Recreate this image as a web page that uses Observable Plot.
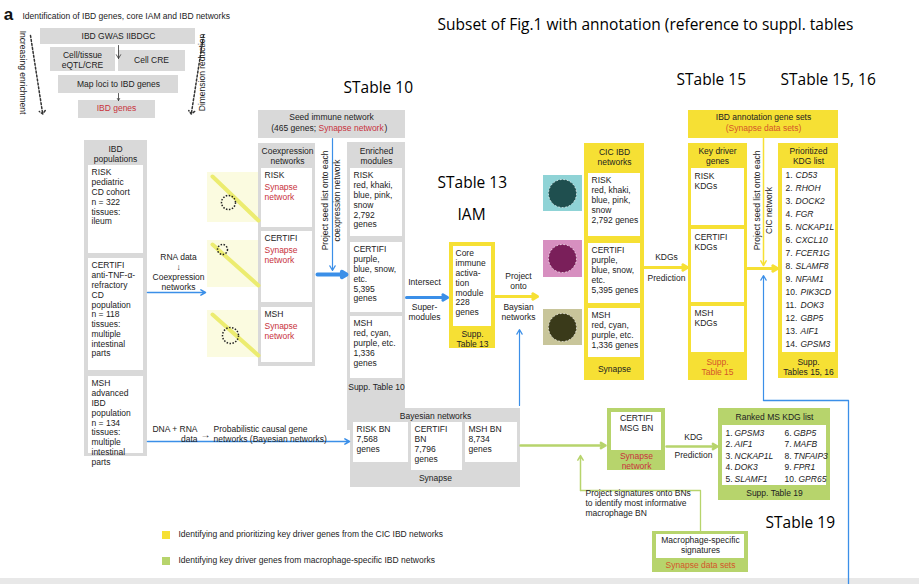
<!DOCTYPE html>
<html><head><meta charset="utf-8">
<script src="https://cdn.jsdelivr.net/npm/d3@7"></script>
<script src="https://cdn.jsdelivr.net/npm/@observablehq/plot@0.6"></script>
<style>body{margin:0;background:#fff}</style>
</head><body><div id="chart"></div>
<script>
// colours
const GRAY = "#d9d9d9", YEL = "#f6e034", GRN = "#b7d46c", BLUE = "#3b8fe8", RED = "#c8323c", ORG = "#d4552a";

// boxes: [x1, y1, x2, y2, fill]
const boxes = [
  // funnel
  [40, 28, 195, 44, GRAY], [50, 47, 115, 71, GRAY], [118, 50, 185, 71, GRAY],
  [58, 75, 178, 93, GRAY], [78, 100, 155, 118, GRAY],
  // populations
  [84, 140, 147, 456, GRAY], [88, 165, 143, 253, "#fff"], [88, 258, 143, 370, "#fff"], [88, 376, 143, 453, "#fff"],
  // heatmaps
  [207, 172, 260, 222, "#fbfbe0"], [207, 240, 260, 287, "#fbfbe0"], [207, 310, 260, 357, "#fbfbe0"],
  // seed + coexpression
  [258, 110, 405, 138, GRAY], [258, 143, 315, 366, GRAY],
  [261, 168, 312, 227, "#fff"], [261, 231, 312, 302, "#fff"], [261, 307, 312, 362, "#fff"],
  // enriched modules
  [347, 142, 405, 430, GRAY], [350, 168, 402, 236, "#fff"], [350, 242, 402, 312, "#fff"], [350, 316, 402, 378, "#fff"],
  // core IAM
  [449, 242, 495, 348, YEL], [453, 246, 491, 326, "#fff"],
  // network pictures
  [543, 175, 582, 211, "#8fd3d6"], [543, 240, 582, 277, "#d78fc0"], [543, 309, 582, 345, "#c8c59a"],
  // CIC IBD
  [584, 143, 644, 380, YEL], [588, 173, 640, 236, "#fff"], [588, 243, 640, 303, "#fff"], [588, 308, 640, 357, "#fff"],
  // annotation + KDG
  [688, 110, 838, 138, YEL], [688, 143, 747, 380, YEL],
  [691, 168, 744, 225, "#fff"], [691, 229, 744, 302, "#fff"], [691, 306, 744, 352, "#fff"],
  [778, 143, 838, 378, YEL], [782, 168, 835, 352, "#fff"],
  // Bayesian
  [350, 408, 520, 487, GRAY], [353, 422, 408, 462, "#fff"], [411, 422, 462, 470, "#fff"], [465, 422, 517, 462, "#fff"],
  // macrophage part
  [607, 408, 665, 470, GRN], [611, 412, 661, 450, "#fff"],
  [718, 408, 830, 500, GRN], [722, 425, 826, 485, "#fff"],
  [652, 531, 748, 572, GRN], [656, 534, 744, 558, "#fff"],
  // legend swatches
  [162, 531, 170, 539, YEL], [162, 557, 170, 565, GRN],
  [0, 578, 919, 584, "#e8e8e8"]
];
// heatmap diagonals: [id, x, y]
const diag = [
  ["h1", 212, 176], ["h1", 258, 220], ["h2", 212, 244], ["h2", 258, 285], ["h3", 212, 314], ["h3", 258, 355]
];
// network blobs inside pictures: [cx, cy, r, fill]
const blobs = [[562, 193, 14, "#1f4f4f"], [562, 258, 14, "#7a1f5a"], [562, 327, 14, "#3a3a1a"]];
const ellipses = [[228, 202, 7], [222, 249, 5], [230, 335, 8]];

// arrows: [x1, y1, x2, y2, colour, width]
const arrows = [
  [147, 292, 205, 292, BLUE, 1.5], [317, 274, 346, 274, BLUE, 4], [332, 138, 332, 270, BLUE, 1.2],
  [406, 297, 447, 297, BLUE, 3], [495, 296, 537, 296, YEL, 3], [519, 405, 519, 329, BLUE, 1.2],
  [644, 267, 687, 267, YEL, 3], [763, 138, 763, 265, YEL, 1.5], [747, 268, 777, 268, YEL, 3],
  [763, 400, 763, 275, BLUE, 1.2], [147, 441, 349, 441, BLUE, 1.5],
  [520, 445, 605, 445, GRN, 2.5], [580, 490, 580, 455, GRN, 1.5], [666, 446, 717, 446, GRN, 2.5],
  [118, 45, 118, 58, "#333", 0.8], [118, 93, 118, 100, "#333", 0.8]
];
// plain polylines: [id, x, y, colour]
const polyPts = [
  ["b1", 763, 400, BLUE], ["b1", 848, 400, BLUE], ["b1", 848, 584, BLUE],
  ["g1", 700, 531, GRN], ["g1", 700, 490, GRN], ["g1", 580, 490, GRN]
];
const dashPts = [
  ["d1", 30, 35, "#333"], ["d1", 42, 112, "#333"], ["d2", 203, 35, "#333"], ["d2", 191, 112, "#333"]
];

// text: [x, y, text, colour?]
const labels = [
  [118, 32, "IBD GWAS IIBDGC"], [82, 51, "Cell/tissue\neQTL/CRE"], [151, 56, "Cell CRE"],
  [118, 80, "Map loci to IBD genes"],
  [115, 145, "IBD\npopulations"], [287, 147, "Coexpression\nnetworks"], [376, 147, "Enriched\nmodules"],
  [331, 113, "Seed immune network"], [614, 148, "CIC IBD\nnetworks"], [717, 147, "Key driver\ngenes"],
  [808, 147, "Prioritized\nKDG list"], [763, 113, "IBD annotation gene sets"],
  [178, 253, "RNA data\n↓\nCoexpression\nnetworks"], [424, 278, "Intersect"], [424, 303, "Super-\nmodules"],
  [518, 272, "Project\nonto"], [518, 303, "Baysian\nnetworks"], [666, 253, "KDGs"], [666, 274, "Prediction"],
  [376, 383, "Supp. Table 10"], [472, 330, "Supp.\nTable 13"], [614, 365, "Synapse"],
  [435, 412, "Bayesian networks"], [435, 474, "Synapse"], [636, 414, "CERTIFI\nMSG BN"],
  [693, 433, "KDG"], [693, 451, "Prediction"], [774, 413, "Ranked MS KDG list"], [774, 489, "Supp. Table 19"],
  [808, 358, "Supp.\nTables 15, 16"], [700, 536, "Macrophage-specific\nsignatures"]
];
const redLabels = [
  [116, 104, "IBD genes", RED], [717, 358, "Supp.\nTable 15", ORG], [763, 124, "(Synapse data sets)", ORG],
  [636, 452, "Synapse\nnetwork", RED], [700, 561, "Synapse data sets", ORG]
];
const leftLabels = [
  [91, 168, "RISK\npediatric\nCD cohort\nn = 322\ntissues:\nileum"],
  [91, 261, "CERTIFI\nanti-TNF-α-\nrefractory\nCD\npopulation\nn = 118\ntissues:\nmultiple\nintestinal\nparts"],
  [91, 379, "MSH\nadvanced\nIBD\npopulation\nn = 134\ntissues:\nmultiple\nintestinal\nparts"],
  [264, 171, "RISK"], [264, 234, "CERTIFI"], [264, 310, "MSH"],
  [353, 171, "RISK\nred, khaki,\nblue, pink,\nsnow\n2,792\ngenes"],
  [353, 245, "CERTIFI\npurple,\nblue, snow,\netc.\n5,395\ngenes"],
  [353, 319, "MSH\nred, cyan,\npurple, etc.\n1,336\ngenes"],
  [455, 249, "Core\nimmune\nactiva-\ntion\nmodule\n228\ngenes"],
  [591, 176, "RISK\nred, khaki,\nblue, pink,\nsnow\n2,792 genes"],
  [591, 246, "CERTIFI\npurple,\nblue, snow,\netc.\n5,395 genes"],
  [591, 311, "MSH\nred, cyan,\npurple, etc.\n1,336 genes"],
  [694, 172, "RISK\nKDGs"], [694, 233, "CERTIFI\nKDGs"], [694, 309, "MSH\nKDGs"],
  [356, 425, "RISK BN\n7,568\ngenes"], [414, 425, "CERTIFI\nBN\n7,796\ngenes"], [468, 425, "MSH BN\n8,734\ngenes"],
  [213, 425, "Probabilistic causal gene\nnetworks (Bayesian networks)"],
  [585, 489, "Project signatures onto BNs\nto identify most informative\nmacrophage BN"],
  [178, 530, "Identifying and prioritizing key driver genes from the CIC IBD networks"],
  [178, 556, "Identifying key driver genes from macrophage-specific IBD networks"],
  [22, 12, "Identification of IBD genes, core IAM and IBD networks"]
];
const rightLabels = [[197, 425, "DNA + RNA\ndata"]];
const redLeft = [[264, 183, "Synapse\nnetwork"], [264, 246, "Synapse\nnetwork"], [264, 322, "Synapse\nnetwork"]];
const arrowGlyph = [[205, 434, "→"]];

// gene lists
const kdgGenes = ["CD53", "RHOH", "DOCK2", "FGR", "NCKAP1L", "CXCL10", "FCER1G", "SLAMF8", "NFAM1", "PIK3CD", "DOK3", "GBP5", "AIF1", "GPSM3"];
const msGenes = ["GPSM3", "AIF1", "NCKAP1L", "DOK3", "SLAMF1", "GBP5", "MAFB", "TNFAIP3", "FPR1", "GPR65"];
const kdgNum = kdgGenes.map((g, i) => ({x: 785, y: 171 + i * 13, n: (i + 1) + ".", g, gx: i < 9 ? 795 : 800}));
const msNum = msGenes.map((g, i) => ({x: i < 5 ? 725 : 784, y: 429 + (i % 5) * 11.5, n: (i + 1) + ".", g,
  gx: (i < 5 ? 725 : 784) + (i < 9 ? 9 : 14)}));
const rotUp = [
  [325, 200, "Project seed list onto each"], [337, 200, "coexpression network"],
  [757, 200, "Project seed list onto each"], [769, 210, "CIC network"],
  [202, 72, "Dimension reduction"]
];
const rotDown = [[22, 72, "Increasing enrichment"]];
const annot = [
  [437, 25, "Subset of Fig.1 with annotation (reference to suppl. tables"], [343, 88, "STable 10"],
  [676, 80, "STable 15"], [780, 80, "STable 15, 16"], [437, 183, "STable 13"], [457, 215, "IAM"], [765, 523, "STable 19"]
];

const F = "Liberation Sans, Arial, sans-serif";
const FS = 8.5;
const chart = Plot.plot({
  width: 919, height: 584, margin: 0,
  x: {domain: [0, 919], range: [0, 919], axis: null},
  y: {domain: [0, 584], range: [0, 584], axis: null},
  r: {type: "identity"},
  style: {fontFamily: F, background: "#fff"},
  marks: [
    Plot.rect(boxes, {x1: d => d[0], y1: d => d[1], x2: d => d[2], y2: d => d[3], fill: d => d[4]}),
    Plot.line(diag, {x: d => d[1], y: d => d[2], z: d => d[0], stroke: "#ecec70", strokeWidth: 4}),
    Plot.dot(blobs, {x: d => d[0], y: d => d[1], r: d => d[2], fill: d => d[3], stroke: "#fff", strokeWidth: 0.8, strokeDasharray: "1.5,2"}),
    Plot.dot(ellipses, {x: d => d[0], y: d => d[1], r: d => d[2], stroke: "#222", strokeDasharray: "1.5,1.5"}),
    Plot.line(polyPts, {x: d => d[1], y: d => d[2], z: d => d[0], stroke: d => d[3], strokeWidth: 1.3}),
    Plot.line(dashPts, {x: d => d[1], y: d => d[2], z: d => d[0], stroke: "#333", strokeDasharray: "2,2", markerEnd: "arrow"}),
    Plot.arrow(arrows, {x1: d => d[0], y1: d => d[1], x2: d => d[2], y2: d => d[3],
      stroke: d => d[4], strokeWidth: d => d[5], headLength: 8}),
    Plot.text(labels, {x: d => d[0], y: d => d[1], text: d => d[2], lineAnchor: "top", fontSize: FS, fill: "#222", lineHeight: 1.15}),
    Plot.text(redLabels, {x: d => d[0], y: d => d[1], text: d => d[2], lineAnchor: "top", fontSize: FS, fill: d => d[3], lineHeight: 1.15}),
    Plot.text(leftLabels, {x: d => d[0], y: d => d[1], text: d => d[2], lineAnchor: "top", textAnchor: "start", fontSize: FS, fill: "#222", lineHeight: 1.15}),
    Plot.text(rightLabels, {x: d => d[0], y: d => d[1], text: d => d[2], lineAnchor: "top", textAnchor: "end", fontSize: FS, fill: "#222", lineHeight: 1.15}),
    Plot.text(redLeft, {x: d => d[0], y: d => d[1], text: d => d[2], lineAnchor: "top", textAnchor: "start", fontSize: FS, fill: RED, lineHeight: 1.15}),
    Plot.text(arrowGlyph, {x: d => d[0], y: d => d[1], text: d => d[2], fontSize: 10, fill: "#222"}),
    Plot.text(["(465 genes; "], {x: 318, y: 128, textAnchor: "end", fontSize: FS, fill: "#222"}),
    Plot.text(["Synapse network"], {x: 318, y: 128, textAnchor: "start", fontSize: FS, fill: RED}),
    Plot.text([")"], {x: 384, y: 128, textAnchor: "start", fontSize: FS, fill: "#222"}),
    Plot.text(kdgNum, {x: "x", y: "y", text: "n", lineAnchor: "top", textAnchor: "start", fontSize: FS, fill: "#222"}),
    Plot.text(kdgNum, {x: "gx", y: "y", text: "g", lineAnchor: "top", textAnchor: "start", fontSize: FS, fontStyle: "italic", fill: "#222"}),
    Plot.text(msNum, {x: "x", y: "y", text: "n", lineAnchor: "top", textAnchor: "start", fontSize: FS, fill: "#222"}),
    Plot.text(msNum, {x: "gx", y: "y", text: "g", lineAnchor: "top", textAnchor: "start", fontSize: FS, fontStyle: "italic", fill: "#222"}),
    Plot.text(rotUp, {x: d => d[0], y: d => d[1], text: d => d[2], rotate: -90, fontSize: FS, fill: "#222"}),
    Plot.text(rotDown, {x: d => d[0], y: d => d[1], text: d => d[2], rotate: 90, fontSize: FS, fill: "#222"}),
    Plot.text(["a"], {x: 8, y: 14, fontSize: 17, fontWeight: "bold", fill: "#111"}),
    Plot.text(annot, {x: d => d[0], y: d => d[1], text: d => d[2], textAnchor: "start", fontSize: 15.5, fontFamily: "Open Sans", fill: "#000"})
  ]
});
document.getElementById("chart").append(chart);
</script>
</body></html>
